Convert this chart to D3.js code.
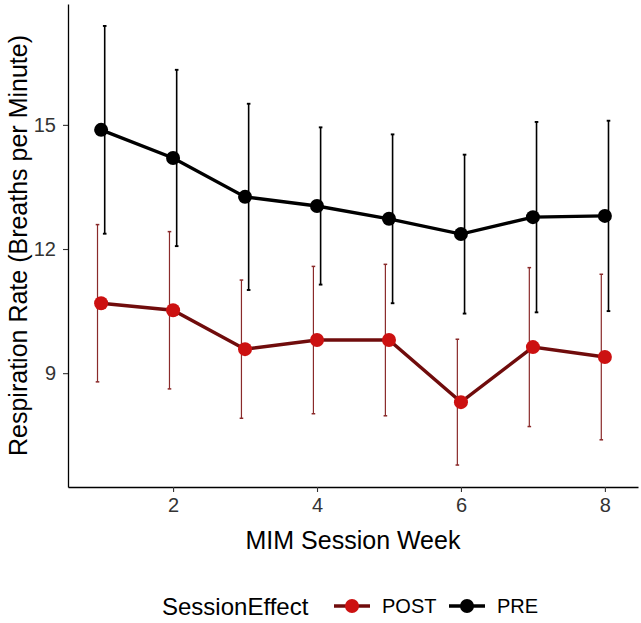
<!DOCTYPE html>
<html>
<head>
<meta charset="utf-8">
<script src="https://cdn.jsdelivr.net/npm/d3@7"></script>
<style>
html,body{margin:0;padding:0;background:#fff;}
svg{display:block;font-family:"Liberation Sans",Arial,sans-serif;}
</style>
</head>
<body>
<svg id="chart" width="641" height="623"></svg>
<script>
const weeks = [1, 2, 3, 4, 5, 6, 7, 8];
const preMean = [14.88, 14.20, 13.26, 13.04, 12.73, 12.36, 12.77, 12.80];
const preSD   = [2.51, 2.13, 2.25, 1.90, 2.04, 1.92, 2.30, 2.30];
const postMean = [10.69, 10.52, 9.58, 9.80, 9.80, 8.30, 9.63, 9.39];
const postSD   = [1.90, 1.90, 1.67, 1.78, 1.83, 1.52, 1.92, 2.00];
const xTicks = [2, 4, 6, 8];
const yTicks = [9, 12, 15];
const seriesNames = ["POST", "PRE"];

const svg = d3.select("#chart");
const m = {left: 68, right: 3, top: 4, bottom: 136};
const W = 641, H = 623;
const dodge = 0.05, cap = 0.05;

const series = [
  {name: "POST", mean: postMean, sd: postSD, line: "#700c0c", pt: "#cc1111", bar: "#8a2a2a", off: -dodge, bw: 1.2},
  {name: "PRE", mean: preMean, sd: preSD, line: "#000000", pt: "#000000", bar: "#000000", off: dodge, bw: 1.6}
];

const allLo = series.flatMap(s => s.mean.map((v, i) => v - s.sd[i]));
const allHi = series.flatMap(s => s.mean.map((v, i) => v + s.sd[i]));
let y0 = d3.min(allLo), y1 = d3.max(allHi);
const ey = (y1 - y0) * 0.05;
let x0 = d3.min(weeks) - dodge - cap, x1 = d3.max(weeks) + dodge + cap;
const ex = (x1 - x0) * 0.05;

const x = d3.scaleLinear().domain([x0 - ex, x1 + ex]).range([m.left, W - m.right]);
const y = d3.scaleLinear().domain([y0 - ey, y1 + ey]).range([H - m.bottom, m.top]);

const gx = svg.append("g").attr("transform", `translate(0,${H - m.bottom})`)
  .call(d3.axisBottom(x).tickValues(xTicks).tickSize(5).tickPadding(6).tickSizeOuter(0));
const gy = svg.append("g").attr("transform", `translate(${m.left},0)`)
  .call(d3.axisLeft(y).tickValues(yTicks).tickSize(5).tickPadding(7).tickSizeOuter(0));
[gx, gy].forEach(g => {
  g.select(".domain").attr("stroke", "#000").attr("stroke-width", 1.3);
  g.selectAll(".tick line").attr("stroke", "#333").attr("stroke-width", 1.1);
  g.selectAll(".tick text").attr("fill", "#333").style("font-size", "20px");
});

series.forEach(s => {
  const g = svg.append("g");
  weeks.forEach((w, i) => {
    const xc = x(w + s.off);
    const lo = y(s.mean[i] - s.sd[i]), hi = y(s.mean[i] + s.sd[i]);
    const half = x(w + cap / 2) - x(w);
    g.append("line").attr("x1", xc).attr("x2", xc).attr("y1", lo).attr("y2", hi)
      .attr("stroke", s.bar).attr("stroke-width", s.bw);
    [lo, hi].forEach(yy => g.append("line").attr("x1", xc - half).attr("x2", xc + half)
      .attr("y1", yy).attr("y2", yy).attr("stroke", s.bar).attr("stroke-width", s.bw + 0.3));
  });
  const line = d3.line().x((d, i) => x(weeks[i])).y(d => y(d));
  g.append("path").datum(s.mean).attr("d", line).attr("fill", "none")
    .attr("stroke", s.line).attr("stroke-width", 3.4);
  g.selectAll("circle").data(s.mean).join("circle")
    .attr("cx", (d, i) => x(weeks[i])).attr("cy", d => y(d)).attr("r", 7)
    .attr("fill", s.pt);
});

svg.append("text").attr("x", (m.left + W - m.right) / 2).attr("y", 540)
  .attr("text-anchor", "middle").attr("dominant-baseline", "central")
  .style("font-size", "25px").attr("fill", "#000").text("MIM Session Week");
svg.append("text").attr("transform", `translate(18,${(m.top + H - m.bottom) / 2}) rotate(-90)`)
  .attr("text-anchor", "middle").attr("dominant-baseline", "central")
  .style("font-size", "25px").attr("fill", "#000").text("Respiration Rate (Breaths per Minute)");

const ly = 606;
const leg = svg.append("g");
leg.append("text").attr("x", 162).attr("y", ly).attr("dominant-baseline", "central")
  .style("font-size", "24px").attr("fill", "#000").text("SessionEffect");
const keyX = [334, 449];
seriesNames.forEach((nm, k) => {
  const s = series.find(d => d.name === nm);
  const kx = keyX[k];
  leg.append("line").attr("x1", kx).attr("x2", kx + 36).attr("y1", ly).attr("y2", ly)
    .attr("stroke", s.line).attr("stroke-width", 3.4);
  leg.append("circle").attr("cx", kx + 18).attr("cy", ly).attr("r", 7).attr("fill", s.pt);
  leg.append("text").attr("x", kx + 48).attr("y", ly).attr("dominant-baseline", "central")
    .style("font-size", "20px").attr("fill", "#000").text(nm);
});
</script>
</body>
</html>
